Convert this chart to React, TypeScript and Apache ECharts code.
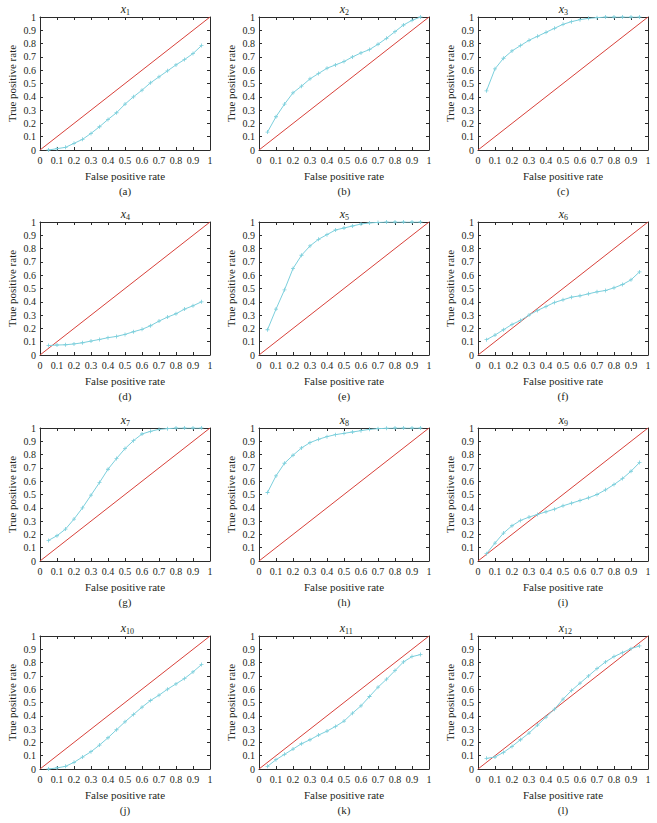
import React, { useEffect, useRef } from 'react';
import * as echarts from 'echarts';

// False positive rate sample points shared by all panels
const FPR = [0.05, 0.1, 0.15, 0.2, 0.25, 0.3, 0.35, 0.4, 0.45, 0.5, 0.55, 0.6, 0.65, 0.7, 0.75, 0.8, 0.85, 0.9, 0.95];

// True positive rates per variable
const TPR_X1 = [0.0, 0.01, 0.02, 0.05, 0.08, 0.125, 0.175, 0.23, 0.28, 0.345, 0.4, 0.45, 0.505, 0.55, 0.595, 0.64, 0.68, 0.725, 0.785];
const TPR_X2 = [0.135, 0.25, 0.345, 0.43, 0.48, 0.535, 0.575, 0.615, 0.64, 0.665, 0.7, 0.73, 0.755, 0.795, 0.84, 0.89, 0.94, 0.975, 1.0];
const TPR_X3 = [0.445, 0.61, 0.69, 0.745, 0.785, 0.825, 0.855, 0.885, 0.915, 0.945, 0.965, 0.98, 0.99, 0.995, 1.0, 1.0, 1.0, 1.0, 1.0];
const TPR_X4 = [0.071, 0.075, 0.077, 0.083, 0.092, 0.105, 0.117, 0.13, 0.14, 0.155, 0.175, 0.193, 0.22, 0.255, 0.285, 0.31, 0.345, 0.37, 0.4];
const TPR_X5 = [0.19, 0.345, 0.49, 0.65, 0.75, 0.82, 0.87, 0.905, 0.94, 0.955, 0.97, 0.985, 0.993, 0.997, 1.0, 1.0, 1.0, 1.0, 1.0];
const TPR_X6 = [0.115, 0.15, 0.19, 0.23, 0.26, 0.3, 0.335, 0.365, 0.395, 0.415, 0.435, 0.445, 0.46, 0.475, 0.485, 0.505, 0.53, 0.565, 0.625];
const TPR_X7 = [0.155, 0.19, 0.24, 0.315, 0.4, 0.495, 0.59, 0.69, 0.77, 0.845, 0.905, 0.955, 0.975, 0.99, 0.995, 1.0, 1.0, 1.0, 1.0];
const TPR_X8 = [0.515, 0.64, 0.735, 0.795, 0.85, 0.89, 0.915, 0.935, 0.95, 0.96, 0.97, 0.98, 0.99, 0.995, 0.998, 1.0, 1.0, 1.0, 1.0];
const TPR_X9 = [0.055, 0.135, 0.21, 0.265, 0.305, 0.33, 0.35, 0.37, 0.39, 0.415, 0.435, 0.455, 0.475, 0.5, 0.535, 0.575, 0.62, 0.675, 0.74];
const TPR_X10 = [0.0, 0.008, 0.02, 0.05, 0.09, 0.13, 0.18, 0.235, 0.295, 0.355, 0.41, 0.465, 0.515, 0.555, 0.6, 0.64, 0.68, 0.73, 0.785];
const TPR_X11 = [0.02, 0.07, 0.11, 0.15, 0.19, 0.22, 0.255, 0.285, 0.32, 0.36, 0.42, 0.475, 0.545, 0.615, 0.675, 0.74, 0.805, 0.845, 0.86];
const TPR_X12 = [0.08, 0.09, 0.125, 0.17, 0.22, 0.27, 0.33, 0.39, 0.45, 0.525, 0.59, 0.645, 0.7, 0.755, 0.805, 0.845, 0.875, 0.905, 0.925];

// Chance diagonal
const DIAG_X = [0, 1];
const DIAG_Y = [0, 1];

const TITLE_SUBS = ['1', '2', '3', '4', '5', '6', '7', '8', '9', '10', '11', '12'];
const PANEL_LABELS = ['(a)', '(b)', '(c)', '(d)', '(e)', '(f)', '(g)', '(h)', '(i)', '(j)', '(k)', '(l)'];
const TPR_ALL = [TPR_X1, TPR_X2, TPR_X3, TPR_X4, TPR_X5, TPR_X6, TPR_X7, TPR_X8, TPR_X9, TPR_X10, TPR_X11, TPR_X12];

const X_NAME = 'False positive rate';
const Y_NAME = 'True positive rate';

// Layout
const COL_LEFT = [40, 259, 478];
const ROW_TOP = [17, 222, 428, 636];
const PW = 170;
const PH = 133;

const FONT = 'Liberation Serif';
const FRAME = '#2b2b2b';
const TEXT = '#231f20';
const RED = '#d8413a';
const CYAN = '#7ccfdc';
const PLUS = 'path://M4,0h2v4h4v2h-4v4h-2v-4h-4v-2h4z';

const fmt = (v: number) => String(Number(v.toFixed(1)));

export default function App() {
  const ref = useRef<HTMLDivElement>(null);
  useEffect(() => {
    const chart = echarts.init(ref.current!, null, { renderer: 'svg' });
    const grid: any[] = [];
    const xAxis: any[] = [];
    const yAxis: any[] = [];
    const series: any[] = [];
    const graphic: any[] = [];

    TPR_ALL.forEach((tpr, i) => {
      const r = Math.floor(i / 3);
      const c = i % 3;
      const left = COL_LEFT[c];
      const top = ROW_TOP[r];
      const cx = left + PW / 2;
      grid.push({ left, top, width: PW, height: PH, containLabel: false, outerBoundsMode: 'none' });
      const common = {
        type: 'value',
        min: 0,
        max: 1,
        interval: 0.1,
        gridIndex: i,
        splitLine: { show: false },
        axisLine: { show: true, onZero: false, lineStyle: { color: FRAME, width: 1 } },
        axisTick: { show: true, inside: true, length: 3, lineStyle: { color: FRAME, width: 1 } },
      };
      const labelStyle = { show: true, fontFamily: FONT, fontSize: 10, color: TEXT, formatter: fmt };
      const nameStyle = { fontFamily: FONT, fontSize: 11, color: TEXT };
      xAxis.push({
        ...common,
        position: 'bottom',
        name: X_NAME,
        nameLocation: 'middle',
        nameGap: 20,
        nameTextStyle: nameStyle,
        axisLabel: { ...labelStyle, margin: 5 },
      });
      xAxis.push({ ...common, position: 'top', axisLabel: { show: false } });
      yAxis.push({
        ...common,
        position: 'left',
        name: Y_NAME,
        nameLocation: 'middle',
        nameGap: 23,
        nameTextStyle: nameStyle,
        axisLabel: { ...labelStyle, margin: 4 },
      });
      yAxis.push({ ...common, position: 'right', axisLabel: { show: false } });

      series.push({
        type: 'line',
        xAxisIndex: 2 * i,
        yAxisIndex: 2 * i,
        data: DIAG_X.map((x, k) => [x, DIAG_Y[k]]),
        symbol: 'none',
        lineStyle: { color: RED, width: 1 },
        silent: true,
      });
      series.push({
        type: 'line',
        xAxisIndex: 2 * i,
        yAxisIndex: 2 * i,
        data: FPR.map((x, k) => [x, tpr[k]]),
        symbol: PLUS,
        symbolSize: 4,
        itemStyle: { color: CYAN },
        lineStyle: { color: CYAN, width: 1 },
        silent: true,
      });

      // title x_n
      graphic.push({
        type: 'text',
        x: cx + 1,
        y: top - 8,
        style: {
          text: 'x',
          fontFamily: FONT,
          fontStyle: 'italic',
          fontSize: 12,
          fill: TEXT,
          align: 'right',
          verticalAlign: 'middle',
        },
      });
      graphic.push({
        type: 'text',
        x: cx + 1,
        y: top - 5,
        style: {
          text: TITLE_SUBS[i],
          fontFamily: FONT,
          fontSize: 8,
          fill: TEXT,
          align: 'left',
          verticalAlign: 'middle',
        },
      });
      // panel label
      graphic.push({
        type: 'text',
        x: cx,
        y: top + PH + 41,
        style: {
          text: PANEL_LABELS[i],
          fontFamily: FONT,
          fontSize: 11,
          fill: TEXT,
          align: 'center',
          verticalAlign: 'middle',
        },
      });
    });

    chart.setOption({
      animation: false,
      backgroundColor: '#ffffff',
      grid,
      xAxis,
      yAxis,
      series,
      graphic,
    });
    return () => chart.dispose();
  }, []);
  return <div ref={ref} style={{ position: 'absolute', left: 0, top: 0, width: 657, height: 823 }} />;
}
